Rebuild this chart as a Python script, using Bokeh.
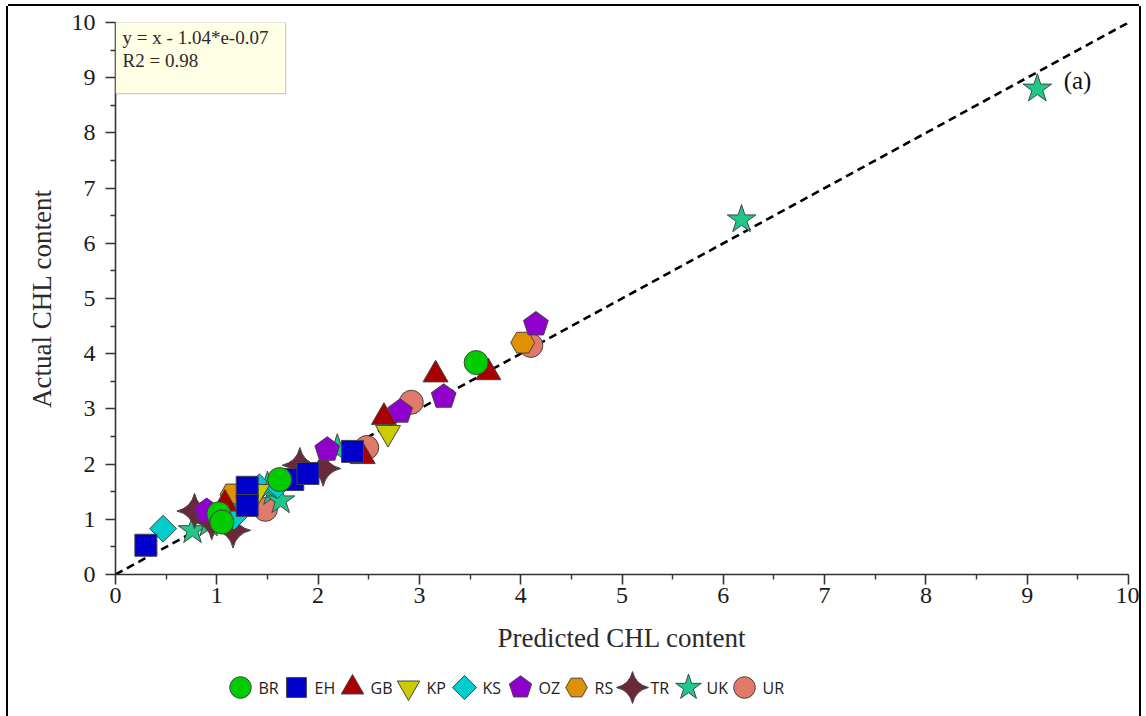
import numpy as np
from bokeh.plotting import figure
from bokeh.layouts import column
from bokeh.models import Label, BoxAnnotation, Range1d, FixedTicker
from bokeh.core.properties import value
from bokeh.embed import file_html
from bokeh.resources import INLINE

# ---------------- data ----------------
series_names = ["BR", "EH", "GB", "KP", "KS", "OZ", "RS", "TR", "UK", "UR"]

br_x = [1.02, 1.05, 1.62, 3.56]
br_y = [1.10, 0.95, 1.72, 3.84]
eh_x = [0.30, 1.30, 1.30, 1.75, 1.90, 2.34]
eh_y = [0.53, 1.58, 1.25, 1.72, 1.83, 2.23]
gb_x = [1.08, 2.44, 2.65, 3.16, 3.68]
gb_y = [1.28, 2.14, 2.85, 3.62, 3.66]
kp_x = [1.40, 2.69]
kp_y = [1.50, 2.57]
ks_x = [0.47, 1.17, 1.42, 1.60]
ks_y = [0.83, 1.05, 1.58, 1.62]
oz_x = [0.90, 2.09, 2.81, 3.24, 4.15]
oz_y = [1.15, 2.26, 2.95, 3.22, 4.53]
rs_x = [1.15, 4.02]
rs_y = [1.45, 4.20]
tr_x = [0.78, 0.95, 1.16, 1.82, 2.05]
tr_y = [1.15, 0.95, 0.80, 1.98, 1.92]
uk_x = [0.76, 0.92, 1.55, 1.63, 1.50, 2.19, 6.18, 9.10]
uk_y = [0.80, 0.92, 1.49, 1.34, 1.60, 2.28, 6.43, 8.80]
ur_x = [1.48, 2.48, 2.92, 4.10]
ur_y = [1.18, 2.30, 3.12, 4.15]

fit_slope = 1.0
fit_intercept = -1.04e-7
fit_x = [0.0, 10.0]

x_ticks = list(range(0, 11))
y_ticks = list(range(0, 11))

equation_line1 = "y = x - 1.04*e-0.07"
equation_line2 = "R2 = 0.98"
panel_tag = "(a)"

# ---------------- main figure ----------------
p = figure(width=1131, height=654, x_range=Range1d(0, 10), y_range=Range1d(0, 10),
           output_backend="svg", toolbar_location=None,
           min_border_left=107, min_border_right=11, min_border_top=16,
           min_border_bottom=86)
p.grid.visible = False
p.outline_line_color = None
p.background_fill_color = "white"
p.border_fill_color = "white"

serif = "Liberation Serif"
for ax, ticks in ((p.xaxis, x_ticks), (p.yaxis, y_ticks)):
    ax.ticker = FixedTicker(ticks=ticks, minor_ticks=[t + 0.5 for t in ticks[:-1]])
    ax.major_label_text_font = serif
    ax.major_label_text_font_size = "24px"
    ax.major_label_text_color = "#1a1a1a"
    ax.axis_label_text_font = serif
    ax.axis_label_text_font_size = "27px"
    ax.axis_label_text_font_style = "normal"
    ax.axis_label_text_color = "#2a2a2a"
    ax.axis_line_color = "#333333"
    ax.axis_line_width = 1.6
    ax.major_tick_line_color = "#333333"
    ax.major_tick_line_width = 1.6
    ax.minor_tick_line_color = "#333333"
    ax.minor_tick_line_width = 1.4
    ax.major_tick_out = 10
    ax.major_tick_in = 0
    ax.minor_tick_out = 5
    ax.minor_tick_in = 0
p.xaxis.axis_label = "Predicted CHL content"
p.yaxis.axis_label = "Actual CHL content"
p.xaxis.major_label_standoff = 3
p.yaxis.major_label_standoff = 10
p.xaxis.axis_label_standoff = 17
p.yaxis.axis_label_standoff = 12

# regression line
fit_y = [fit_slope * v + fit_intercept for v in fit_x]
p.line(fit_x, fit_y, line_color="black", line_width=2.6, line_dash="8 5")

edge = "#444444"
colors = {"BR": "#00CC00", "EH": "#0000CC", "GB": "#A80000", "KP": "#CCCC00",
          "KS": "#00CCCC", "OZ": "#9000CC", "RS": "#E09000", "TR": "#6A2838",
          "UK": "#20C888", "UR": "#E07B6B"}
data = {"BR": (br_x, br_y), "EH": (eh_x, eh_y), "GB": (gb_x, gb_y),
        "KP": (kp_x, kp_y), "KS": (ks_x, ks_y), "OZ": (oz_x, oz_y),
        "RS": (rs_x, rs_y), "TR": (tr_x, tr_y), "UK": (uk_x, uk_y),
        "UR": (ur_x, ur_y)}
marker = {"BR": ("circle", 24, 0), "EH": ("square", 22, 0), "GB": ("triangle", 25, 0),
          "KP": ("inverted_triangle", 25, 0), "KS": ("square", 19, np.pi / 4),
          "RS": ("hex", 24, 0), "TR": ("square_pin", 25, np.pi / 4),
          "UK": ("star", 30, 0), "UR": ("circle", 24, 0)}


def draw(fig, name, xs, ys, scale=1.0):
    if name == "OZ":
        return fig.ngon(x=xs, y=ys, radius=13 * scale, radius_units="screen", n=5,
                        angle=0, fill_color=colors[name], line_color=edge, line_width=1)
    m, s, a = marker[name]
    return fig.scatter(x=xs, y=ys, marker=m, size=s * scale, angle=a,
                       fill_color=colors[name], line_color=edge, line_width=1)


for name in reversed(series_names):
    xs, ys = data[name]
    draw(p, name, xs, ys)

# equation box
box = BoxAnnotation(left=0, right=1.68, top=10, bottom=8.71, fill_color="#FFFFE6",
                    fill_alpha=1.0, line_color="#555555", line_width=1.2)
p.add_layout(box)
p.add_layout(Label(x=0.07, y=9.73, text=equation_line1, text_font=serif,
                   text_font_size="19px", text_color="#2a2a2a", text_baseline="middle"))
p.add_layout(Label(x=0.07, y=9.31, text=equation_line2, text_font=serif,
                   text_font_size="19px", text_color="#2a2a2a", text_baseline="middle"))
p.add_layout(Label(x=9.36, y=8.95, text=panel_tag, text_font=serif,
                   text_font_size="25px", text_color="#111111", text_baseline="middle"))

# ---------------- legend strip (pixel-space layout; frame aligned with main plot) ----
LG_H = 56
lg = figure(width=1131, height=LG_H, x_range=Range1d(115, 1128), y_range=Range1d(0, LG_H),
            output_backend="svg", toolbar_location=None,
            x_axis_location=None, y_axis_location=None,
            min_border=0, min_border_left=0, min_border_right=0,
            min_border_top=0, min_border_bottom=0)
lg.grid.visible = False
lg.outline_line_color = None
lg.border_fill_color = "white"
lg.background_fill_color = "white"

item_x0, item_pitch, item_y = 240, 56, 29
for i, name in enumerate(series_names):
    cx = item_x0 + i * item_pitch
    draw(lg, name, [cx], [item_y], scale=0.9)
lg.text(x=[item_x0 + i * item_pitch + 18 for i in range(len(series_names))],
        y=[item_y] * len(series_names), text=series_names,
        text_font=value("Open Sans"), text_font_size="16px", text_color="#222222",
        text_baseline="middle", text_align="left")

p.styles = {"box-shadow": "-2px 0 0 0 #000, 2px 0 0 0 #000, 0 -2px 0 0 #000"}
lg.styles = {"box-shadow": "-2px 0 0 0 #000, 2px 0 0 0 #000"}

layout = column(p, lg, spacing=0)
layout.margin = (6, 0, 0, 8)

open("out.html", "w").write(file_html(layout, INLINE))
